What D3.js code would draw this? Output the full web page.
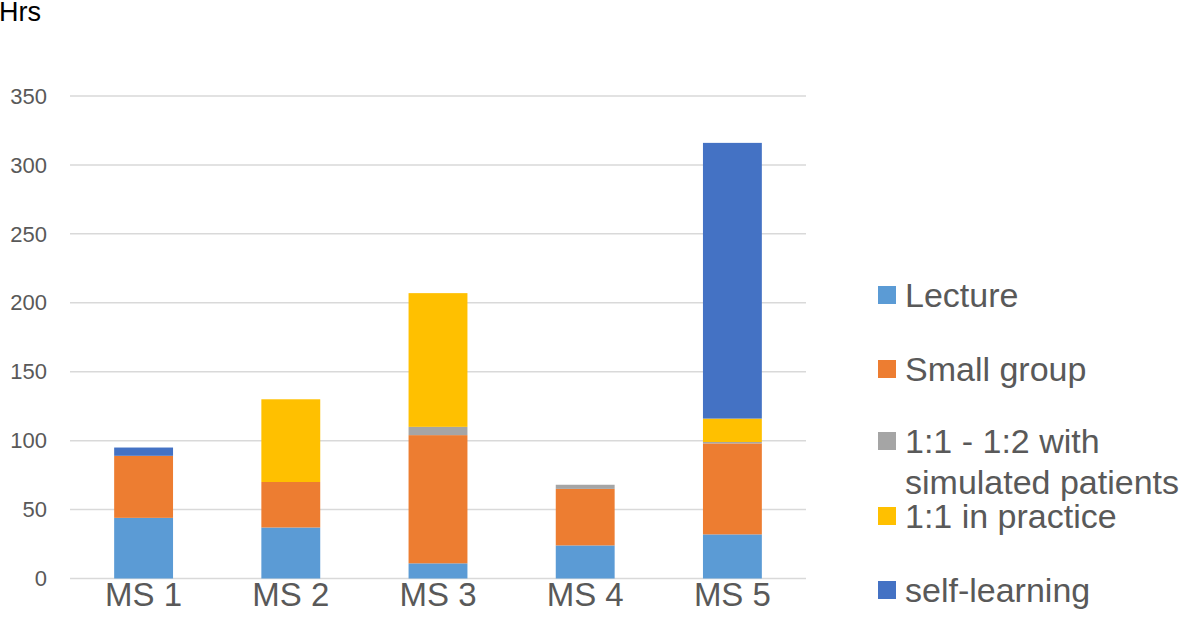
<!DOCTYPE html>
<html>
<head>
<meta charset="utf-8">
<script src="https://cdn.jsdelivr.net/npm/d3@7"></script>
<style>
  body { margin: 0; background: #fff; }
  svg { font-family: Arial, "Liberation Sans", sans-serif; }
</style>
</head>
<body>
<div id="chart"></div>
<script>
// data
var categories = ["MS 1", "MS 2", "MS 3", "MS 4", "MS 5"];
var seriesNames = ["Lecture", "Small group", "1:1 - 1:2 with simulated patients", "1:1 in practice", "self-learning"];
var lecture = [44, 37, 11, 24, 32];
var smallGroup = [45, 33, 93, 41, 66];
var simulated = [0, 0, 6, 3, 1];
var practice = [0, 60, 97, 0, 17];
var selfLearning = [6, 0, 0, 0, 200];
var yTicks = [0, 50, 100, 150, 200, 250, 300, 350];

var colors = ["#5B9BD5", "#ED7D31", "#A5A5A5", "#FFC000", "#4472C4"];
var seriesValues = [lecture, smallGroup, simulated, practice, selfLearning];

var width = 1181, height = 632;

var rows = categories.map(function(c, i) {
  var r = { name: c };
  seriesNames.forEach(function(s, j) { r[s] = seriesValues[j][i]; });
  return r;
});

var stack = d3.stack().keys(seriesNames);
var layers = stack(rows);

var svg = d3.select("#chart").append("svg")
    .attr("width", width)
    .attr("height", height);

var x = d3.scaleBand()
    .domain(categories)
    .range([70, 806])
    .paddingInner(0.6)
    .paddingOuter(0.3);

var y = d3.scaleLinear()
    .domain([0, 350])
    .range([578.5, 96]);

// gridlines
svg.append("g")
    .selectAll("line")
    .data(yTicks)
  .enter().append("line")
    .attr("x1", 70)
    .attr("x2", 806)
    .attr("y1", function(d) { return y(d); })
    .attr("y2", function(d) { return y(d); })
    .attr("stroke", "#d9d9d9")
    .attr("stroke-width", 1.5);

// y tick labels
svg.append("g")
    .selectAll("text")
    .data(yTicks)
  .enter().append("text")
    .attr("x", 47)
    .attr("y", function(d) { return y(d); })
    .attr("dy", "0.35em")
    .attr("text-anchor", "end")
    .attr("fill", "#595959")
    .style("font-size", "22px")
    .text(function(d) { return d; });

// bars
svg.append("g")
    .selectAll("g")
    .data(layers)
  .enter().append("g")
    .attr("fill", function(d, i) { return colors[i]; })
  .selectAll("rect")
    .data(function(d) { return d; })
  .enter().append("rect")
    .attr("x", function(d) { return x(d.data.name); })
    .attr("width", x.bandwidth())
    .attr("y", function(d) { return y(d[1]); })
    .attr("height", function(d) { return y(d[0]) - y(d[1]); });

// x labels
svg.append("g")
    .selectAll("text")
    .data(categories)
  .enter().append("text")
    .attr("x", function(d) { return x(d) + x.bandwidth() / 2; })
    .attr("y", 606)
    .attr("text-anchor", "middle")
    .attr("fill", "#595959")
    .style("font-size", "33px")
    .text(function(d) { return d; });

// axis title
svg.append("text")
    .attr("x", -1)
    .attr("y", 21)
    .attr("fill", "#000")
    .style("font-size", "27px")
    .text("Hrs");

// legend
var legendY = [295, 369, 441, 516, 590];
var legend = svg.append("g")
    .selectAll("g")
    .data(seriesNames)
  .enter().append("g")
    .attr("transform", function(d, i) { return "translate(878," + legendY[i] + ")"; });

legend.append("rect")
    .attr("x", 0)
    .attr("y", -9)
    .attr("width", 18)
    .attr("height", 18)
    .attr("fill", function(d, i) { return colors[i]; });

legend.append("text")
    .attr("x", 27)
    .attr("y", 0)
    .attr("dy", "0.35em")
    .attr("fill", "#595959")
    .style("font-size", "34px")
    .each(function(d) {
      var t = d3.select(this);
      if (d.indexOf("simulated") >= 0) {
        t.append("tspan").attr("x", 27).text("1:1 - 1:2 with");
        t.append("tspan").attr("x", 27).attr("dy", "41px").text("simulated patients");
      } else {
        t.text(d);
      }
    });
</script>
</body>
</html>
